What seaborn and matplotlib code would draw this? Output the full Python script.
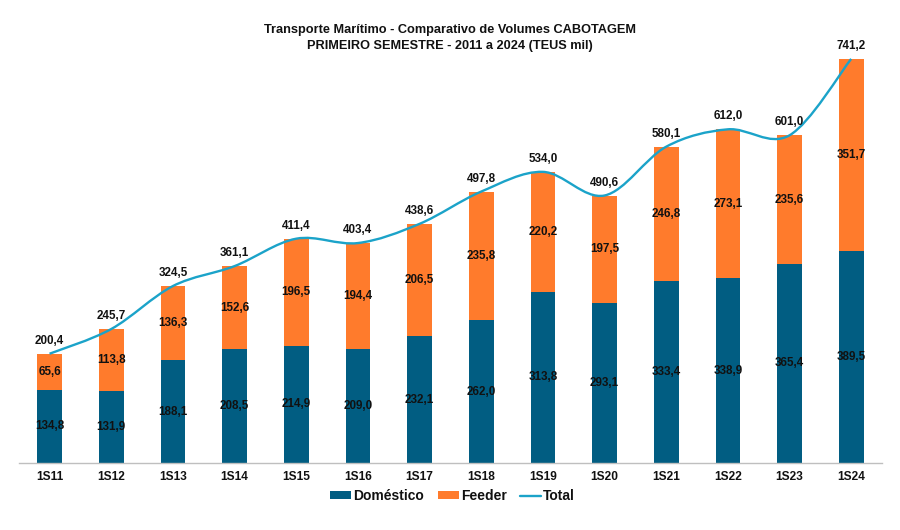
import matplotlib
matplotlib.use("Agg")
import matplotlib.pyplot as plt
from matplotlib.path import Path
from matplotlib.patches import PathPatch, Patch
from matplotlib.lines import Line2D
import seaborn as sns
import pandas as pd
import numpy as np

categories = ["1S11", "1S12", "1S13", "1S14", "1S15", "1S16", "1S17",
              "1S18", "1S19", "1S20", "1S21", "1S22", "1S23", "1S24"]
domestico = [134.8, 131.9, 188.1, 208.5, 214.9, 209.0, 232.1,
             262.0, 313.8, 293.1, 333.4, 338.9, 365.4, 389.5]
feeder = [65.6, 113.8, 136.3, 152.6, 196.5, 194.4, 206.5,
          235.8, 220.2, 197.5, 246.8, 273.1, 235.6, 351.7]
total = [200.4, 245.7, 324.5, 361.1, 411.4, 403.4, 438.6,
         497.8, 534.0, 490.6, 580.1, 612.0, 601.0, 741.2]

C_DOM = "#015D82"
C_FEED = "#FF7B2C"
C_TOT = "#1BA3C9"

sns.set_theme(style="white")
plt.rcParams["font.family"] = ["Liberation Sans", "DejaVu Sans"]
plt.rcParams["font.weight"] = "bold"

df = pd.DataFrame({"cat": categories, "dom": domestico, "feed": feeder, "tot": total})

fig = plt.figure(figsize=(9, 5.3), dpi=100)
ax = fig.add_axes([18.7 / 900, 1 - 463 / 530, (882 - 18.7) / 900, 428 / 530])

sns.barplot(data=df, x="cat", y="tot", color=C_FEED, width=0.4, ax=ax,
            saturation=1, edgecolor="none", linewidth=0)
sns.barplot(data=df, x="cat", y="dom", color=C_DOM, width=0.4, ax=ax,
            saturation=1, edgecolor="none", linewidth=0)

# smoothed total line (Excel-style Catmull-Rom Bezier through the points)
xs = np.arange(len(total), dtype=float)
ys = np.array(total, dtype=float)
verts = [(xs[0], ys[0])]
codes = [Path.MOVETO]
n = len(xs)
for i in range(n - 1):
    p0 = np.array([xs[max(i - 1, 0)], ys[max(i - 1, 0)]])
    p1 = np.array([xs[i], ys[i]])
    p2 = np.array([xs[i + 1], ys[i + 1]])
    p3 = np.array([xs[min(i + 2, n - 1)], ys[min(i + 2, n - 1)]])
    c1 = p1 + (p2 - p0) / 6.0
    c2 = p2 - (p3 - p1) / 6.0
    verts += [tuple(c1), tuple(c2), tuple(p2)]
    codes += [Path.CURVE4] * 3
ax.add_patch(PathPatch(Path(verts, codes), facecolor="none", edgecolor=C_TOT,
                       linewidth=1.7, zorder=5))

FS = 8.4
for i in range(n):
    ax.text(i, domestico[i] / 2, f"{domestico[i]:.1f}".replace(".", ","),
            ha="center", va="center", fontsize=FS, fontweight="bold", color="#111111", zorder=6)
    ax.text(i, domestico[i] + feeder[i] / 2, f"{feeder[i]:.1f}".replace(".", ","),
            ha="center", va="center", fontsize=FS, fontweight="bold", color="#111111", zorder=6)
    ax.annotate(f"{total[i]:.1f}".replace(".", ","), (i, total[i]), xytext=(0, 5),
                textcoords="offset points", ha="center", va="bottom",
                fontsize=FS, fontweight="bold", color="#111111", zorder=6)

ax.set_xlim(-0.5, n - 0.5)
ax.set_ylim(0, 785)
ax.set_xlabel("")
ax.set_ylabel("")
ax.set_yticks([])
for s in ["top", "right", "left"]:
    ax.spines[s].set_visible(False)
ax.spines["bottom"].set_color("#BFBFBF")
ax.spines["bottom"].set_linewidth(1.0)
ax.set_xticks(range(n))
ax.set_xticklabels(categories, fontsize=8.6, fontweight="bold", color="#111111")
ax.set_xticks(np.arange(-0.5, n, 1.0), minor=True)
ax.tick_params(axis="x", which="major", length=0, pad=6)
ax.tick_params(axis="x", which="minor", length=4, color="#BFBFBF", width=1, direction="out")
ax.set_facecolor("none")

fig.text(0.5, 1 - 30 / 530, "Transporte Marítimo - Comparativo de Volumes CABOTAGEM",
         ha="center", va="center", fontsize=9.2, fontweight="bold", color="#111111")
fig.text(0.5, 1 - 46 / 530, "PRIMEIRO SEMESTRE - 2011 a 2024 (TEUS mil)",
         ha="center", va="center", fontsize=9.2, fontweight="bold", color="#111111")

handles = [Patch(facecolor=C_DOM, edgecolor="none"),
           Patch(facecolor=C_FEED, edgecolor="none"),
           Line2D([0], [0], color=C_TOT, linewidth=1.7)]
leg = fig.legend(handles, ["Doméstico", "Feeder", "Total"], loc="center",
                 bbox_to_anchor=(0.503, 1 - 496 / 530), ncol=3, frameon=False,
                 fontsize=10, handlelength=1.5, handleheight=0.5, handletextpad=0.15,
                 columnspacing=1.0)
for t in leg.get_texts():
    t.set_fontweight("bold")
    t.set_color("#111111")

fig.savefig("out.png", dpi=100, facecolor="white")
